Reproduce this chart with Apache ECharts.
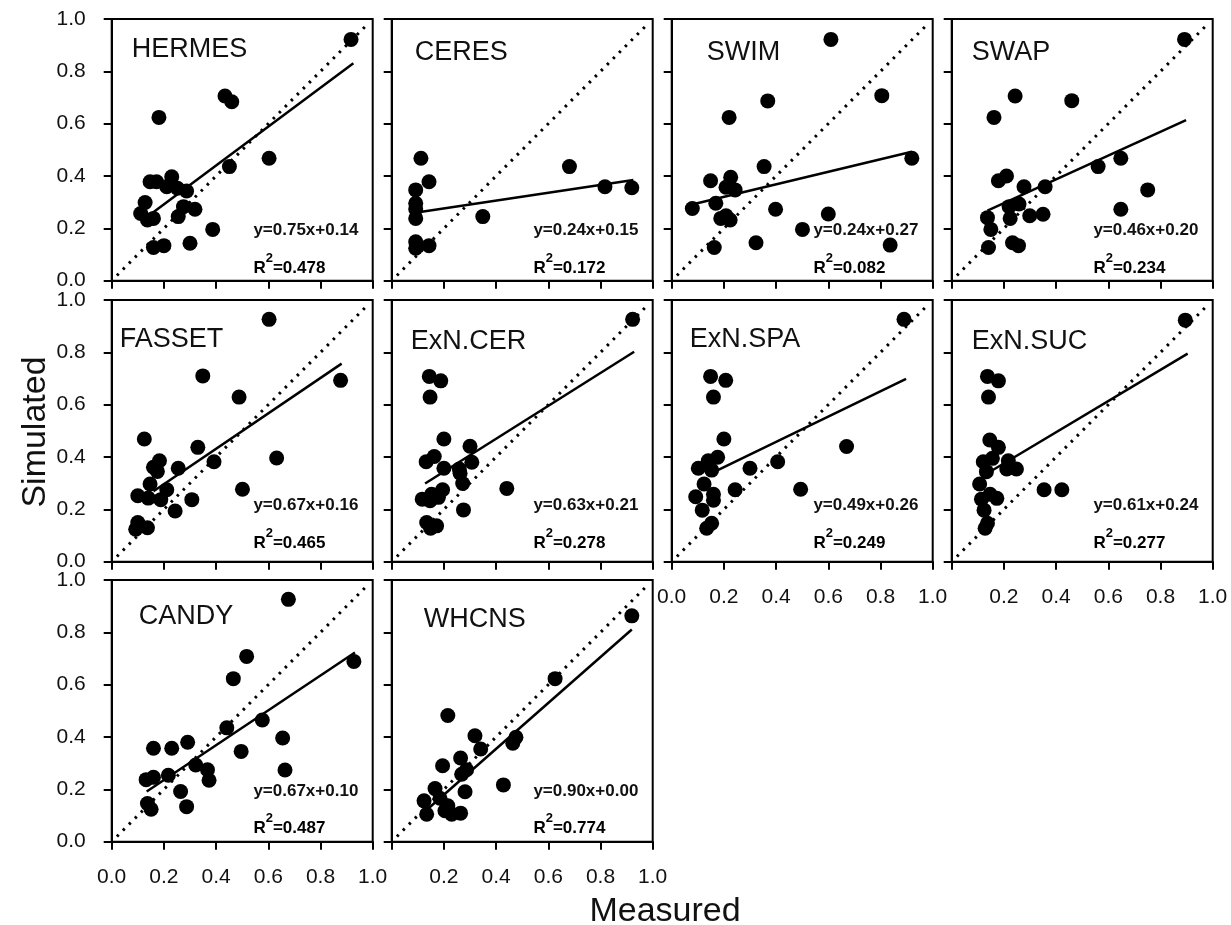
<!DOCTYPE html>
<html>
<head>
<meta charset="utf-8">
<script src="https://cdn.jsdelivr.net/npm/echarts@6/dist/echarts.min.js"></script>
<style>html,body{margin:0;padding:0;background:#fff}#c{width:1231px;height:925px}</style>
</head>
<body>
<div id="c"></div>
<script>
// ---------- data ----------
const panelNames = ['HERMES','CERES','SWIM','SWAP','FASSET','ExN.CER','ExN.SPA','ExN.SUC','CANDY','WHCNS'];
const equations = ['y=0.75x+0.14','y=0.24x+0.15','y=0.24x+0.27','y=0.46x+0.20','y=0.67x+0.16','y=0.63x+0.21','y=0.49x+0.26','y=0.61x+0.24','y=0.67x+0.10','y=0.90x+0.00'];
const r2Values = ['0.478','0.172','0.082','0.234','0.465','0.278','0.249','0.277','0.487','0.774'];
const tickLabels = ['0.0','0.2','0.4','0.6','0.8','1.0'];

const HERMES_meas = [0.917,0.181,0.434,0.460,0.603,0.451,0.230,0.147,0.172,0.211,0.252,0.287,0.128,0.111,0.137,0.160,0.275,0.319,0.255,0.387,0.160,0.200,0.300];
const HERMES_sim  = [0.922,0.624,0.706,0.684,0.468,0.436,0.397,0.378,0.378,0.359,0.353,0.343,0.299,0.257,0.232,0.238,0.283,0.273,0.245,0.196,0.127,0.134,0.143];
const CERES_meas = [0.112,0.143,0.092,0.092,0.092,0.092,0.092,0.092,0.143,0.349,0.681,0.817,0.920];
const CERES_sim  = [0.468,0.378,0.347,0.296,0.274,0.238,0.149,0.124,0.134,0.245,0.436,0.359,0.355];
const SWIM_meas = [0.610,0.805,0.368,0.220,0.920,0.354,0.149,0.226,0.208,0.243,0.079,0.169,0.398,0.188,0.208,0.224,0.600,0.501,0.163,0.323,0.837];
const SWIM_sim  = [0.922,0.707,0.687,0.624,0.468,0.436,0.382,0.395,0.357,0.347,0.276,0.296,0.273,0.238,0.248,0.232,0.255,0.196,0.127,0.145,0.136];
const SWAP_meas = [0.892,0.243,0.460,0.162,0.648,0.561,0.179,0.210,0.277,0.358,0.751,0.220,0.258,0.137,0.224,0.299,0.350,0.648,0.150,0.141,0.233,0.256];
const SWAP_sim  = [0.922,0.706,0.688,0.624,0.468,0.436,0.382,0.400,0.359,0.359,0.347,0.283,0.293,0.241,0.238,0.248,0.254,0.273,0.196,0.127,0.145,0.134];
const FASSET_meas = [0.603,0.877,0.349,0.488,0.125,0.330,0.632,0.392,0.183,0.160,0.175,0.255,0.147,0.100,0.140,0.211,0.188,0.307,0.501,0.243,0.100,0.092,0.137];
const FASSET_sim  = [0.926,0.693,0.710,0.629,0.469,0.437,0.396,0.382,0.386,0.361,0.345,0.357,0.297,0.252,0.243,0.275,0.237,0.237,0.277,0.194,0.150,0.124,0.130];
const EXNCER_meas = [0.923,0.144,0.188,0.147,0.200,0.300,0.163,0.132,0.307,0.200,0.259,0.262,0.272,0.441,0.195,0.117,0.147,0.153,0.179,0.275,0.134,0.149,0.172];
const EXNCER_sim  = [0.926,0.708,0.691,0.629,0.469,0.441,0.402,0.382,0.380,0.357,0.354,0.338,0.299,0.280,0.275,0.239,0.233,0.258,0.246,0.198,0.150,0.128,0.137];
const EXNSPA_meas = [0.890,0.149,0.207,0.160,0.200,0.670,0.176,0.140,0.406,0.102,0.153,0.300,0.124,0.243,0.494,0.092,0.160,0.160,0.117,0.153,0.134];
const EXNSPA_sim  = [0.926,0.708,0.693,0.629,0.469,0.440,0.399,0.386,0.382,0.357,0.350,0.357,0.297,0.275,0.277,0.248,0.258,0.235,0.197,0.147,0.128];
const EXNSUC_meas = [0.895,0.137,0.179,0.141,0.146,0.179,0.156,0.121,0.217,0.211,0.248,0.133,0.107,0.354,0.422,0.114,0.147,0.173,0.124,0.137,0.128];
const EXNSUC_sim  = [0.923,0.708,0.691,0.629,0.465,0.437,0.395,0.382,0.386,0.354,0.354,0.344,0.297,0.275,0.275,0.239,0.258,0.242,0.197,0.147,0.128];
const CANDY_meas = [0.677,0.928,0.517,0.466,0.577,0.441,0.655,0.291,0.160,0.230,0.496,0.322,0.367,0.664,0.217,0.132,0.160,0.373,0.264,0.137,0.151,0.287];
const CANDY_sim  = [0.926,0.689,0.708,0.623,0.465,0.435,0.396,0.380,0.357,0.357,0.345,0.293,0.275,0.274,0.254,0.237,0.246,0.235,0.192,0.146,0.124,0.134];
const WHCNS_meas = [0.920,0.626,0.215,0.319,0.476,0.464,0.341,0.264,0.195,0.287,0.268,0.428,0.281,0.166,0.185,0.124,0.215,0.204,0.134,0.230,0.264];
const WHCNS_sim  = [0.863,0.623,0.482,0.405,0.399,0.376,0.354,0.320,0.290,0.275,0.258,0.217,0.191,0.203,0.166,0.156,0.137,0.118,0.105,0.105,0.109];

// fitted-line end points as drawn in the reference
const fitStartX = [0.153,0.096,0.070,0.137,0.160,0.128,0.153,0.137,0.134,0.115];
const fitStartY = [0.257,0.261,0.289,0.268,0.269,0.299,0.338,0.338,0.192,0.105];
const fitEndX   = [0.926,0.926,0.920,0.898,0.881,0.929,0.898,0.904,0.932,0.920];
const fitEndY   = [0.831,0.385,0.493,0.614,0.757,0.802,0.699,0.795,0.723,0.811];
const oneToOne = [0.02, 0.98];

const measured = [HERMES_meas,CERES_meas,SWIM_meas,SWAP_meas,FASSET_meas,EXNCER_meas,EXNSPA_meas,EXNSUC_meas,CANDY_meas,WHCNS_meas];
const simulated = [HERMES_sim,CERES_sim,SWIM_sim,SWAP_sim,FASSET_sim,EXNCER_sim,EXNSPA_sim,EXNSUC_sim,CANDY_sim,WHCNS_sim];

// ---------- layout ----------
const colLeft = [111.7, 391.7, 671.7, 951.7];
const rowTop = [19, 300, 580];
const PW = 261, PH = 261.7;
const titleOff = [[20,17],[23,20],[35,20],[20,20],[8,26],[19,28],[18,26],[20,28],[27,23],[32,26]];
const showY = [0,4,8];
const showX = {6:true, 7:false, 8:true, 9:false}; // value: show the 0.0 label
const eqRowDy = [[220,258],[214,252],[220,257]];

const FONT = '"Liberation Sans", Arial, sans-serif';
const grids = [], xAxes = [], yAxes = [], series = [], graphics = [];

panelNames.forEach((name, i) => {
  const r = Math.floor(i / 4), c = i % 4;
  const L = colLeft[c], T = rowTop[r];
  grids.push({left: L, top: T, width: PW, height: PH, show: true, borderColor: '#000', borderWidth: 2, backgroundColor: 'transparent'});
  const xs = (i in showX);
  const hideZero = xs && showX[i] === false;
  xAxes.push({
    gridIndex: i, type: 'value', min: 0, max: 1, interval: 0.2,
    axisLine: {show: true, onZero: false, lineStyle: {color: '#000', width: 2}},
    axisTick: {show: true, inside: false, length: 8, lineStyle: {color: '#000', width: 2}},
    splitLine: {show: false},
    axisLabel: {show: xs, margin: 25, fontSize: 21, color: '#111', fontFamily: FONT,
      formatter: v => { const k = Math.round(v * 5); return (hideZero && k === 0) ? '' : tickLabels[k]; }}
  });
  const ys = showY.includes(i);
  yAxes.push({
    gridIndex: i, type: 'value', min: 0, max: 1, interval: 0.2,
    axisLine: {show: true, onZero: false, lineStyle: {color: '#000', width: 2}},
    axisTick: {show: true, inside: false, length: 8, lineStyle: {color: '#000', width: 2}},
    splitLine: {show: false},
    axisLabel: {show: ys, margin: 26, fontSize: 21, color: '#111', fontFamily: FONT,
      formatter: v => tickLabels[Math.round(v * 5)]}
  });
  series.push({
    type: 'line', xAxisIndex: i, yAxisIndex: i, showSymbol: false, silent: true, z: 3,
    data: [[oneToOne[0], oneToOne[0]], [oneToOne[1], oneToOne[1]]],
    lineStyle: {color: '#000', width: 3, type: [2.5, 6]}
  });
  series.push({
    type: 'scatter', xAxisIndex: i, yAxisIndex: i, symbol: 'circle', symbolSize: 15, z: 2,
    itemStyle: {color: '#000', opacity: 1},
    data: measured[i].map((m, k) => [m, simulated[i][k]])
  });
  series.push({
    type: 'line', xAxisIndex: i, yAxisIndex: i, showSymbol: false, silent: true, z: 4,
    data: [[fitStartX[i], fitStartY[i]], [fitEndX[i], fitEndY[i]]],
    lineStyle: {color: '#000', width: 2.5}
  });
  graphics.push({type: 'text', left: L + titleOff[i][0], top: T + titleOff[i][1],
    style: {text: name, font: '27px ' + FONT, fill: '#111'}});
  const ex = L + 141.7;
  graphics.push({type: 'text', x: ex, y: T + eqRowDy[r][0],
    style: {text: equations[i], font: 'bold 17px ' + FONT, fill: '#111', verticalAlign: 'bottom'}});
  graphics.push({type: 'text', x: ex, y: T + eqRowDy[r][1],
    style: {text: '{a|R}{s|2}{a|=' + r2Values[i] + '}', verticalAlign: 'bottom',
      rich: {a: {fontSize: 17, fontWeight: 'bold', fontFamily: FONT, color: '#111', lineHeight: 25, verticalAlign: 'bottom'},
             s: {fontSize: 13, fontWeight: 'bold', fontFamily: FONT, color: '#111', lineHeight: 13, verticalAlign: 'top'}}}});
});

graphics.push({type: 'text', x: 665, y: 912, style: {text: 'Measured', font: '34px ' + FONT, fill: '#111', align: 'center', verticalAlign: 'middle'}});
graphics.push({type: 'text', x: 36, y: 432, rotation: Math.PI / 2, style: {text: 'Simulated', font: '34px ' + FONT, fill: '#111', align: 'center', verticalAlign: 'middle'}});

const chart = echarts.init(document.getElementById('c'), null, {renderer: 'canvas'});
chart.setOption({
  animation: false,
  backgroundColor: '#fff',
  grid: grids, xAxis: xAxes, yAxis: yAxes, series: series, graphic: graphics
});
</script>
</body>
</html>
